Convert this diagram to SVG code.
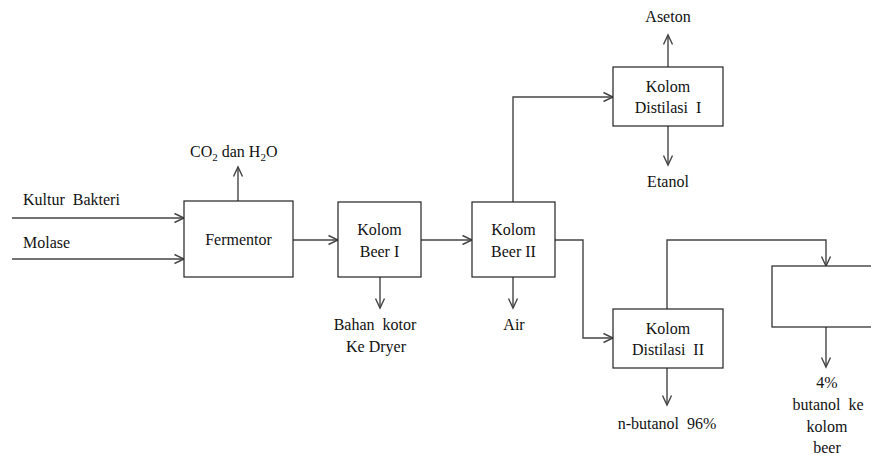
<svg xmlns="http://www.w3.org/2000/svg" width="871" height="455" viewBox="0 0 871 455">
<style>
.box{fill:#fff;stroke:#222;stroke-width:1.2}
.ln{fill:none;stroke:#444;stroke-width:1.4;marker-end:url(#ah)}
text{font-family:"Times New Roman",Times,Tinos,"Noto Serif","Liberation Serif","DejaVu Serif",serif;font-size:16px;fill:#111;white-space:pre}
.c{text-anchor:middle}
</style>
<defs>
<marker id="ah" markerUnits="userSpaceOnUse" markerWidth="12" markerHeight="12" refX="10" refY="5" orient="auto" viewBox="0 0 12 10">
<path d="M0.5,0.5 L10,5 L0.5,9.5" fill="none" stroke="#444" stroke-width="1.4"/>
</marker>
</defs>
<rect width="871" height="455" fill="#fff"/>
<g id="connectors">
<path class="ln" d="M12,218 H184"/>
<path class="ln" d="M12,259 H184"/>
<path class="ln" d="M238,201 V167"/>
<path class="ln" d="M293,240 H338"/>
<path class="ln" d="M380,277 V308"/>
<path class="ln" d="M421,240 H472"/>
<path class="ln" d="M513,277 V308"/>
<path class="ln" d="M513,202 V97 H613"/>
<path class="ln" d="M668,67 V35"/>
<path class="ln" d="M668,126 V165"/>
<path class="ln" d="M555,240 H583 V338 H613"/>
<path class="ln" d="M667,309 V240 H826 V266"/>
<path class="ln" d="M667,368 V405"/>
<path class="ln" d="M826,327 V367"/>
</g>
<g id="labels">
<text x="23" y="205">Kultur  Bakteri</text>
<text x="23" y="248">Molase</text>
<text x="190" y="157">CO<tspan font-size="11" dy="4">2</tspan><tspan dy="-4"> dan H</tspan><tspan font-size="11" dy="4">2</tspan><tspan dy="-4">O</tspan></text>
<text class="c" x="375" y="330">Bahan  kotor</text>
<text class="c" x="376" y="352">Ke Dryer</text>
<text class="c" x="514" y="330">Air</text>
<text class="c" x="668" y="22">Aseton</text>
<text class="c" x="668" y="187">Etanol</text>
<text class="c" x="667" y="429">n-butanol  96%</text>
<text class="c" x="827" y="388">4%</text>
<text class="c" x="828" y="410">butanol  ke</text>
<text class="c" x="827" y="432">kolom</text>
<text class="c" x="827" y="453">beer</text>
</g>
<g id="fermentor">
<rect class="box" x="184" y="201" width="109" height="76"/>
<text class="c" x="238.5" y="245">Fermentor</text>
</g>
<g id="kolom-beer-1">
<rect class="box" x="338" y="202" width="83" height="75"/>
<text class="c" x="379.5" y="235">Kolom</text>
<text class="c" x="379.5" y="257">Beer I</text>
</g>
<g id="kolom-beer-2">
<rect class="box" x="472" y="202" width="83" height="75"/>
<text class="c" x="513.5" y="235">Kolom</text>
<text class="c" x="513.5" y="257">Beer II</text>
</g>
<g id="kolom-distilasi-1">
<rect class="box" x="613" y="67" width="110" height="59"/>
<text class="c" x="668" y="92">Kolom</text>
<text class="c" x="668" y="113">Distilasi  I</text>
</g>
<g id="kolom-distilasi-2">
<rect class="box" x="613" y="309" width="110" height="59"/>
<text class="c" x="668" y="334">Kolom</text>
<text class="c" x="668" y="355">Distilasi  II</text>
</g>
<g id="box-right">
<rect class="box" x="772" y="266" width="110" height="61"/>
</g>
</svg>
